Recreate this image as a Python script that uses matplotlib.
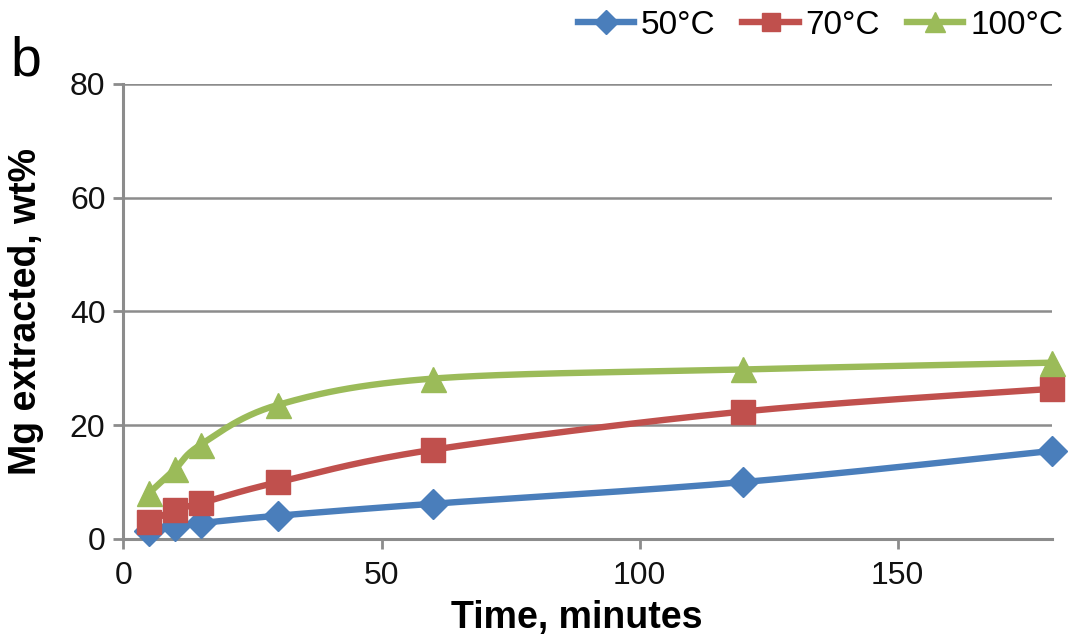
import numpy as np
import matplotlib
matplotlib.use("Agg")
import matplotlib.pyplot as plt

plt.rcParams["font.family"] = ["Liberation Sans", "DejaVu Sans"]

time_min = [5, 10, 15, 30, 60, 120, 180]
mg_50 = [1.4, 2.3, 2.8, 4.1, 6.2, 10.0, 15.5]
mg_70 = [3.0, 5.1, 6.3, 10.0, 15.7, 22.4, 26.4]
mg_100 = [8.1, 12.3, 16.6, 23.6, 28.2, 29.8, 31.0]
labels = ["50°C", "70°C", "100°C"]
colors = ["#4A7EBB", "#C0504D", "#9BBB59"]
markers = ["D", "s", "^"]
msizes = [15, 17, 18]


def smooth(xs, ys, n=30):
    # Catmull-Rom rendering of the line through the data points (like Excel smooth line)
    xs = np.asarray(xs, float); ys = np.asarray(ys, float)
    px = np.concatenate([[xs[0]], xs, [xs[-1]]])
    py = np.concatenate([[ys[0]], ys, [ys[-1]]])
    ox, oy = [], []
    t = np.linspace(0, 1, n)
    for i in range(1, len(px) - 2):
        x0, x1, x2, x3 = px[i-1:i+3]
        y0, y1, y2, y3 = py[i-1:i+3]
        tau = 1/6
        c1x, c1y = x1 + (x2 - x0) * tau, y1 + (y2 - y0) * tau
        c2x, c2y = x2 - (x3 - x1) * tau, y2 - (y3 - y1) * tau
        bx = (1-t)**3*x1 + 3*(1-t)**2*t*c1x + 3*(1-t)*t**2*c2x + t**3*x2
        by = (1-t)**3*y1 + 3*(1-t)**2*t*c1y + 3*(1-t)*t**2*c2y + t**3*y2
        ox.extend(bx); oy.extend(by)
    return np.array(ox), np.array(oy)


fig = plt.figure(figsize=(10.71, 6.38), dpi=100)
ax = fig.add_axes([0.1153, 0.1552, 0.8674, 0.7132])

handles = []
for ys, lab, c, m, ms in zip([mg_50, mg_70, mg_100], labels, colors, markers, msizes):
    sx, sy = smooth(time_min, ys)
    ax.plot(sx, sy, color=c, lw=4.6, solid_capstyle="round", zorder=3, clip_on=False)
    ax.plot(time_min, ys, ls="none", marker=m, ms=ms, color=c, mec=c, zorder=4, clip_on=False)
    h, = ax.plot([], [], color=c, lw=4.6, marker=m, ms=ms*0.8, mec=c, label=lab)
    handles.append(h)

ax.set_xlim(0, 180)
ax.set_ylim(0, 80)
ax.set_xticks([0, 50, 100, 150])
ax.set_yticks([0, 20, 40, 60, 80])
ax.yaxis.grid(True, color="#8C8C8C", lw=1.8)
ax.set_axisbelow(True)
for s in ["top", "right"]:
    ax.spines[s].set_visible(False)
for s in ["left", "bottom"]:
    ax.spines[s].set_color("#8C8C8C")
    ax.spines[s].set_linewidth(2.2)
ax.tick_params(axis="both", direction="out", length=7, width=2, color="#8C8C8C",
               labelsize=23, labelcolor="#111111", pad=6)
ax.tick_params(axis="x", pad=9)
ax.set_xlabel("Time, minutes", fontsize=27, fontweight="bold")
ax.set_ylabel("Mg extracted, wt%", fontsize=27, fontweight="bold")
ax.xaxis.set_label_coords(0.488, -0.135)
ax.yaxis.set_label_coords(-0.086, 0.5)

fig.text(10/1071, 1 - 75/638, "b", fontsize=40, ha="left", va="baseline")

fig.legend(handles=handles, loc="center right", bbox_to_anchor=(1063/1071, 1 - 25/638), ncol=3,
           frameon=False, fontsize=24, handlelength=1.7, columnspacing=0.8, handletextpad=0.2,
           borderpad=0, borderaxespad=0)

fig.savefig("out.png", dpi=100)
